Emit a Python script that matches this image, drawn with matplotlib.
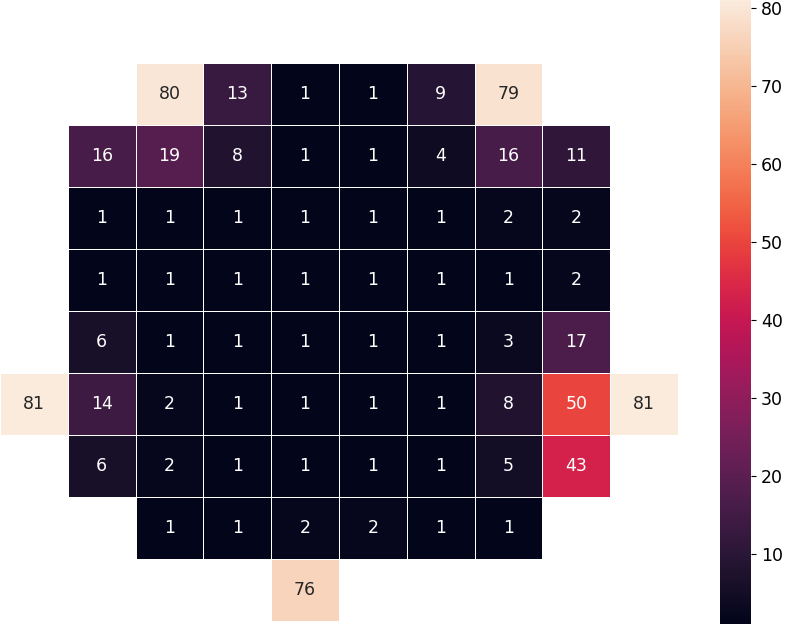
import numpy as np
import matplotlib
matplotlib.use("Agg")
import matplotlib.pyplot as plt
import seaborn as sns

nan = np.nan
row0 = [nan] * 10
row1 = [nan, nan, 80, 13, 1, 1, 9, 79, nan, nan]
row2 = [nan, 16, 19, 8, 1, 1, 4, 16, 11, nan]
row3 = [nan, 1, 1, 1, 1, 1, 1, 2, 2, nan]
row4 = [nan, 1, 1, 1, 1, 1, 1, 1, 2, nan]
row5 = [nan, 6, 1, 1, 1, 1, 1, 3, 17, nan]
row6 = [81, 14, 2, 1, 1, 1, 1, 8, 50, 81]
row7 = [nan, 6, 2, 1, 1, 1, 1, 5, 43, nan]
row8 = [nan, nan, 1, 1, 2, 2, 1, 1, nan, nan]
row9 = [nan, nan, nan, nan, 76, nan, nan, nan, nan, nan]

data = np.array([row0, row1, row2, row3, row4, row5, row6, row7, row8, row9])

fig = plt.figure(figsize=(7.89, 6.24), dpi=100)
W, H = 789, 624
ax = fig.add_axes([0, 3 / H, 678 / W, 620 / H])
cax = fig.add_axes([720 / W, 0, 31 / W, 1])

sns.heatmap(data, ax=ax, cbar_ax=cax, annot=True, fmt=".0f", linewidths=0.5,
            linecolor="white", vmin=1, vmax=81, xticklabels=False, yticklabels=False,
            annot_kws={"fontsize": 12.5})
cax.tick_params(labelsize=12.5)
cax.set_yticks([10, 20, 30, 40, 50, 60, 70, 80])

fig.savefig("out.png", dpi=100)
